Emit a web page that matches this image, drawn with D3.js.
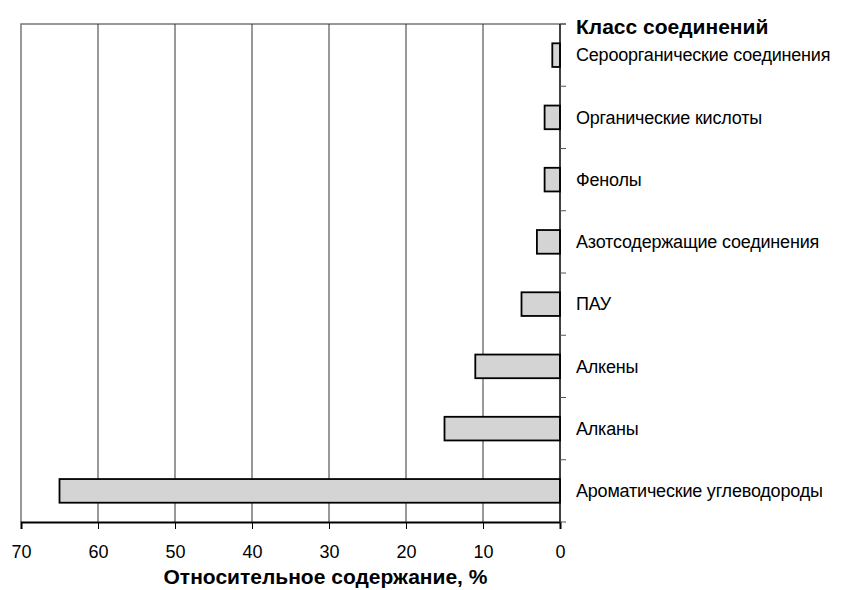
<!DOCTYPE html>
<html>
<head>
<meta charset="utf-8">
<script src="https://cdn.jsdelivr.net/npm/d3@7"></script>
<style>
  body { margin: 0; background: #fff; }
  text { font-family: "Liberation Sans", Arial, sans-serif; }
</style>
</head>
<body>
<div id="chart"></div>
<script>
// compound classes, top to bottom
const categories = [
    "Сероорганические соединения",
    "Органические кислоты",
    "Фенолы",
    "Азотсодержащие соединения",
    "ПАУ",
    "Алкены",
    "Алканы",
    "Ароматические углеводороды"
];
const values = [1, 2, 2, 3, 5, 11, 15, 65];
const xTicks = [0, 10, 20, 30, 40, 50, 60, 70];
const legendTitle = "Класс соединений";
const xTitle = "Относительное содержание, %";

const width = 847, height = 590;
const margin = { left: 21, top: 24, right: 287, bottom: 68 };

const svg = d3.select("#chart")
    .append("svg")
    .attr("width", width)
    .attr("height", height);

// reversed axis: 0 on the right
const x = d3.scaleLinear()
    .domain([70, 0])
    .range([margin.left, width - margin.right]);

const y = d3.scaleBand()
    .domain(categories)
    .range([margin.top, height - margin.bottom])
    .paddingInner(0.62)
    .paddingOuter(0.31);

const plotBottom = height - margin.bottom;
const plotRight = width - margin.right;

// frame (top + left)
svg.append("path")
    .attr("d", "M" + margin.left + "," + plotBottom + "V" + margin.top + "H" + (plotRight + 6))
    .attr("fill", "none")
    .attr("stroke", "#777")
    .attr("stroke-width", 1.5);

// vertical gridlines
svg.selectAll(".grid")
    .data(xTicks.filter((d) => d > 0 && d < 70))
    .enter()
    .append("line")
    .attr("class", "grid")
    .attr("x1", (d) => x(d))
    .attr("x2", (d) => x(d))
    .attr("y1", margin.top)
    .attr("y2", plotBottom)
    .attr("stroke", "#333")
    .attr("stroke-width", 1);

// bars
svg.selectAll(".bar")
    .data(values)
    .enter()
    .append("rect")
    .attr("class", "bar")
    .attr("x", (d) => x(d))
    .attr("y", (d, i) => y(categories[i]))
    .attr("width", (d) => x(0) - x(d))
    .attr("height", y.bandwidth())
    .attr("fill", "#d4d4d4")
    .attr("stroke", "#000")
    .attr("stroke-width", 1.8);

// bottom axis
const xAxis = svg.append("g")
    .attr("transform", "translate(0," + plotBottom + ")")
    .call(d3.axisBottom(x).tickValues(xTicks).tickSize(7).tickPadding(16).tickFormat(d3.format("d")));
xAxis.select(".domain").attr("stroke", "#000").attr("stroke-width", 2);
xAxis.selectAll(".tick line").attr("stroke", "#000");
xAxis.selectAll("text")
    .attr("font-size", 18)
    .attr("fill", "#000")
    .style("font-family", "'Liberation Sans', Arial, sans-serif");

// right category axis with ticks between bands
const step = y.step();
const boundaries = d3.range(categories.length + 1).map((i) => margin.top + i * step);
svg.append("line")
    .attr("x1", plotRight).attr("x2", plotRight)
    .attr("y1", margin.top).attr("y2", plotBottom)
    .attr("stroke", "#000").attr("stroke-width", 1.5);
svg.selectAll(".ctick")
    .data(boundaries)
    .enter()
    .append("line")
    .attr("class", "ctick")
    .attr("x1", plotRight).attr("x2", plotRight + 6)
    .attr("y1", (d) => d).attr("y2", (d) => d)
    .attr("stroke", "#555").attr("stroke-width", 1);

svg.selectAll(".clabel")
    .data(categories)
    .enter()
    .append("text")
    .attr("class", "clabel")
    .attr("x", plotRight + 16)
    .attr("y", (d) => y(d) + y.bandwidth() / 2)
    .attr("dy", "0.35em")
    .attr("font-size", 18)
    .attr("letter-spacing", -0.2)
    .attr("fill", "#000")
    .text((d) => d);

svg.append("text")
    .attr("x", plotRight + 16)
    .attr("y", 27)
    .attr("dy", "0.35em")
    .attr("font-size", 21)
    .attr("font-weight", "bold")
    .text(legendTitle);

svg.append("text")
    .attr("x", (margin.left + plotRight) / 2 + 35)
    .attr("y", 577)
    .attr("dy", "0.35em")
    .attr("text-anchor", "middle")
    .attr("font-size", 21)
    .attr("font-weight", "bold")
    .text(xTitle);
</script>
</body>
</html>
